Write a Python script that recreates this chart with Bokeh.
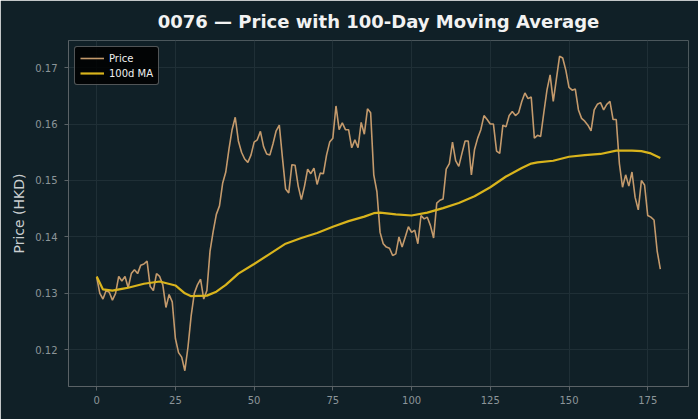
from bokeh.plotting import figure
from bokeh.models import FixedTicker, NumeralTickFormatter, Legend, LegendItem, Range1d
from bokeh.embed import file_html
from bokeh.resources import INLINE

# Daily closing prices (HKD), trading days 0..179
price = [
    0.1329, 0.1300, 0.1290, 0.1305, 0.1302, 0.1288, 0.1300, 0.1330, 0.1322, 0.1330,
    0.1310, 0.1335, 0.1342, 0.1335, 0.1350, 0.1352, 0.1357, 0.1312, 0.1305, 0.1335,
    0.1330, 0.1315, 0.1275, 0.1298, 0.1285, 0.1220, 0.1195, 0.1187, 0.1163, 0.1205,
    0.1260, 0.1300, 0.1315, 0.1325, 0.1290, 0.1305, 0.1375, 0.1410, 0.1440, 0.1455,
    0.1495, 0.1515, 0.1555, 0.1590, 0.1612, 0.1570, 0.1550, 0.1538, 0.1532, 0.1545,
    0.1568, 0.1572, 0.1587, 0.1560, 0.1547, 0.1545, 0.1565, 0.1588, 0.1598, 0.1540,
    0.1485, 0.1478, 0.1528, 0.1527, 0.1490, 0.1466, 0.1490, 0.1520, 0.1512, 0.1522,
    0.1493, 0.1513, 0.1512, 0.1545, 0.1568, 0.1575, 0.1632, 0.1590, 0.1602, 0.1590,
    0.1590, 0.1558, 0.1572, 0.1558, 0.1603, 0.1582, 0.1627, 0.1620, 0.1510, 0.1480,
    0.1408, 0.1388, 0.1382, 0.1380, 0.1367, 0.1370, 0.1400, 0.1382, 0.1400, 0.1418,
    0.1408, 0.1412, 0.1388, 0.1438, 0.1432, 0.1435, 0.1420, 0.1398, 0.1460, 0.1465,
    0.1467, 0.1520, 0.1530, 0.1568, 0.1535, 0.1525, 0.1548, 0.1570, 0.1570, 0.1510,
    0.1555, 0.1575, 0.1590, 0.1615, 0.1608, 0.1600, 0.1600, 0.1552, 0.1548, 0.1598,
    0.1595, 0.1615, 0.1622, 0.1615, 0.1620, 0.1640, 0.1655, 0.1645, 0.1648, 0.1575,
    0.1580, 0.1578, 0.1620, 0.1660, 0.1687, 0.1640, 0.1680, 0.1720, 0.1717, 0.1695,
    0.1665, 0.1660, 0.1662, 0.1625, 0.1610, 0.1605, 0.1598, 0.1588, 0.1625, 0.1635,
    0.1638, 0.1625, 0.1635, 0.1640, 0.1608, 0.1608, 0.1530, 0.1488, 0.1510, 0.1490,
    0.1515, 0.1470, 0.1448, 0.1500, 0.1492, 0.1438, 0.1435, 0.1430, 0.1375, 0.1343,
]
days = list(range(len(price)))

# 100-day moving average, sampled along the same day axis
ma_days = [0, 2, 5, 8, 10, 15, 20, 25, 28, 30, 35, 38, 41, 45, 50, 55, 60, 65, 70,
           75, 80, 85, 88, 90, 95, 100, 105, 110, 115, 120, 125, 130, 135, 138, 140,
           145, 150, 155, 160, 165, 170, 173, 176, 179]
ma_values = [0.1330, 0.1307, 0.1305, 0.1308, 0.1310, 0.1317, 0.1321, 0.1314, 0.1300,
             0.1295, 0.1296, 0.1303, 0.1315, 0.1335, 0.1352, 0.1370, 0.1388, 0.1398,
             0.1407, 0.1418, 0.1428, 0.1436, 0.1442, 0.1443, 0.1440, 0.1438, 0.1443,
             0.1451, 0.1460, 0.1472, 0.1488, 0.1507, 0.1522, 0.1530, 0.1532, 0.1535,
             0.1542, 0.1545, 0.1547, 0.1553, 0.1553, 0.1552, 0.1548, 0.1540]

x_ticks = [0, 25, 50, 75, 100, 125, 150, 175]
y_ticks = [0.12, 0.13, 0.14, 0.15, 0.16, 0.17]

BG = "#102027"
PRICE_COLOR = "#c49a6c"
MA_COLOR = "#d9b41c"

p = figure(width=698, height=419, output_backend="svg", toolbar_location=None,
           x_range=Range1d(-8.95, 187.95), y_range=Range1d(0.1135, 0.1748),
           min_border_left=68, min_border_right=10, min_border_top=12, min_border_bottom=33,
           background_fill_color=BG, border_fill_color=BG, outline_line_color=None)

p.title.text = "0076 — Price with 100-Day Moving Average"
p.title.align = "center"
p.title.text_color = "#f2f2f2"
p.title.text_font = "DejaVu Sans"
p.title.text_font_size = "18px"
p.title.text_font_style = "bold"
p.title.standoff = 17

r_price = p.line(days, price, line_color=PRICE_COLOR, line_width=1.6)
r_ma = p.line(ma_days, ma_values, line_color=MA_COLOR, line_width=2.2)

p.xaxis.ticker = FixedTicker(ticks=x_ticks)
p.yaxis.ticker = FixedTicker(ticks=y_ticks)
p.yaxis.formatter = NumeralTickFormatter(format="0.00")
p.yaxis.axis_label = "Price (HKD)"

for ax in (p.xaxis, p.yaxis):
    ax.axis_line_color = "#5a6266"
    ax.major_tick_line_color = "#5a6266"
    ax.major_tick_out = 4
    ax.major_tick_in = 0
    ax.minor_tick_line_color = None
    ax.major_label_text_color = "#8c9599"
    ax.major_label_text_font = "DejaVu Sans"
    ax.major_label_text_font_size = "10px"
    ax.axis_label_text_color = "#c9ced0"
    ax.axis_label_text_font = "DejaVu Sans"
    ax.axis_label_text_font_size = "14px"
    ax.axis_label_text_font_style = "normal"
p.yaxis.major_label_standoff = 7

p.grid.grid_line_color = "#1f2f36"
p.grid.grid_line_width = 1

legend = Legend(items=[LegendItem(label="Price", renderers=[r_price]),
                       LegendItem(label="100d MA", renderers=[r_ma])],
                location="top_left")
legend.background_fill_color = "black"
legend.background_fill_alpha = 0.85
legend.border_line_color = "#a0a6a8"
legend.border_radius = 3
legend.label_text_color = "#f0f0f0"
legend.label_text_font = "DejaVu Sans"
legend.label_text_font_size = "10px"
legend.glyph_width = 24
legend.glyph_height = 12
legend.label_height = 12
legend.spacing = 3
legend.padding = 5
legend.margin = 6
p.add_layout(legend)

open("out.html", "w").write(file_html(p, INLINE))
